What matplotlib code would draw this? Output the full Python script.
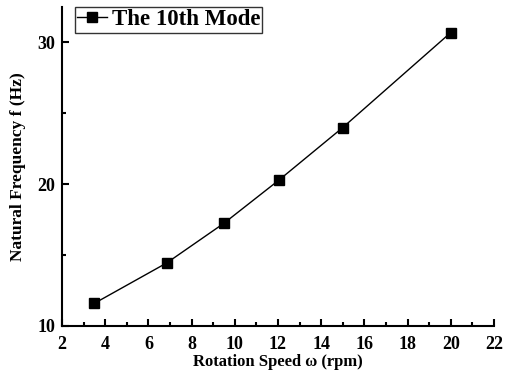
import matplotlib
matplotlib.use("Agg")
import matplotlib.pyplot as plt
from matplotlib.ticker import MultipleLocator

speed = [3.5, 6.85, 9.5, 12.05, 15.0, 20.0]
freq = [11.6, 14.45, 17.25, 20.3, 24.0, 30.7]

plt.rcParams['font.family'] = ['Liberation Serif']
plt.rcParams['font.weight'] = 'bold'

fig = plt.figure(figsize=(5.09, 3.72), dpi=100)
ax = fig.add_axes([62/509, 1-326/372, 432/509, (326-7)/372])
ax.plot(speed, freq, '-s', color='black', lw=1, ms=6.5, label='The 10th Mode')
ax.set_xlim(2, 22)
ax.set_ylim(10, 32.5)
ax.xaxis.set_major_locator(MultipleLocator(2))
ax.xaxis.set_minor_locator(MultipleLocator(1))
ax.yaxis.set_major_locator(MultipleLocator(10))
ax.yaxis.set_minor_locator(MultipleLocator(5))
for s in ['top', 'right']:
    ax.spines[s].set_visible(False)
for s in ['left', 'bottom']:
    ax.spines[s].set_linewidth(1.5)
ax.tick_params(which='both', direction='in', width=1.5, labelsize=13, pad=3)
ax.tick_params(axis='x', which='both', pad=7)
ax.tick_params(axis='y', which='both', pad=5)
ax.tick_params(which='major', length=5)
ax.tick_params(which='minor', length=3)
for lab in ax.get_xticklabels() + ax.get_yticklabels():
    lab.set_fontweight('bold')
ax.set_xlabel('Rotation Speed ω (rpm)', fontsize=12, fontweight='bold', labelpad=1)
ax.set_ylabel('Natural Frequency f (Hz)', fontsize=12.5, fontweight='bold', labelpad=8)
leg = ax.legend(loc='upper left', fontsize=16.5, frameon=True, fancybox=False,
                edgecolor='black', handlelength=1.3, borderpad=0.1,
                bbox_to_anchor=(0.03, 1.0), borderaxespad=0.0, handletextpad=0.2)
leg.get_frame().set_linewidth(1)
for t in leg.get_texts():
    t.set_fontweight('bold')
fig.savefig('out.png', dpi=100)
